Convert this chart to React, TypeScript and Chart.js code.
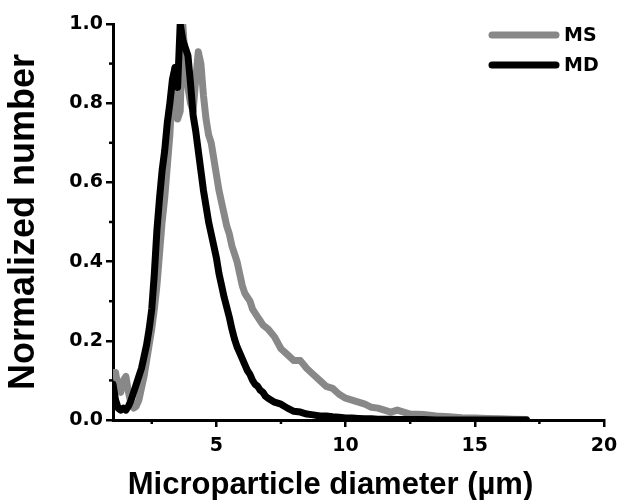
import { useEffect, useRef } from 'react';
import { Chart, registerables } from 'chart.js';

Chart.register(...registerables);

// Microparticle diameter (µm)
const diameter = [
  1.0, 1.1, 1.2, 1.3, 1.4, 1.5, 1.6, 1.7, 1.8, 1.9,
  2.0, 2.1, 2.2, 2.3, 2.4, 2.5, 2.6, 2.7, 2.8, 2.9,
  3.0, 3.1, 3.2, 3.3, 3.4, 3.5, 3.6, 3.7, 3.8, 3.9,
  4.0, 4.1, 4.2, 4.3, 4.4, 4.5, 4.6, 4.7, 4.8, 4.9,
  5.0, 5.1, 5.2, 5.3, 5.4, 5.5, 5.6, 5.7, 5.8, 5.9,
  6.0, 6.1, 6.2, 6.3, 6.4, 6.5, 6.6, 6.7, 6.8, 6.9,
  7.0,
  7.25, 7.5, 7.75, 8.0, 8.25, 8.5, 8.75, 9.0, 9.25, 9.5,
  9.75, 10.0, 10.25, 10.5, 10.75, 11.0, 11.25, 11.5, 11.75, 12.0,
  12.5, 13.0, 13.5, 14.0, 14.5, 15.0, 15.5, 16.0, 16.5, 17.0,
];

// MS (grey)
const msNumber = [
  0.12, 0.12, 0.08, 0.07, 0.10, 0.11, 0.07, 0.04, 0.03, 0.035,
  0.05, 0.08, 0.11, 0.15, 0.19, 0.23, 0.28, 0.34, 0.42, 0.50,
  0.56, 0.64, 0.72, 0.84, 0.89, 0.76, 0.78, 1.0, 0.90, 0.84,
  0.80, 0.78, 0.86, 0.93, 0.90, 0.82, 0.76, 0.72, 0.70, 0.66,
  0.62, 0.58, 0.55, 0.52, 0.49, 0.47, 0.44, 0.42, 0.40, 0.37,
  0.34, 0.32, 0.31, 0.30, 0.28, 0.27, 0.26, 0.25, 0.24, 0.235,
  0.23,
  0.21, 0.18, 0.165, 0.15, 0.15, 0.13, 0.115, 0.10, 0.085, 0.08,
  0.065, 0.055, 0.05, 0.045, 0.04, 0.032, 0.03, 0.025, 0.02, 0.025,
  0.015, 0.014, 0.01, 0.008, 0.006, 0.005, 0.004, 0.003, 0.002, 0.001,
];

// MD (black)
const mdNumber = [
  0.09, 0.05, 0.03, 0.025, 0.03, 0.025, 0.035, 0.05, 0.07, 0.09,
  0.11, 0.13, 0.16, 0.19, 0.23, 0.28, 0.37, 0.48, 0.56, 0.63,
  0.68, 0.75, 0.80, 0.86, 0.89, 0.84, 1.0, 0.96, 0.94, 0.92,
  0.85, 0.77, 0.73, 0.68, 0.63, 0.58, 0.54, 0.50, 0.47, 0.44,
  0.41, 0.37, 0.34, 0.31, 0.285, 0.26, 0.23, 0.205, 0.185, 0.17,
  0.155, 0.14, 0.125, 0.115, 0.10, 0.09, 0.085, 0.075, 0.07, 0.06,
  0.055,
  0.045, 0.04, 0.03, 0.022, 0.02, 0.015, 0.013, 0.01, 0.01, 0.008,
  0.007, 0.005, 0.005, 0.004, 0.003, 0.003, 0.002, 0.002, 0.002, 0.001,
  0.001, 0.001, 0, 0, 0, 0, 0, 0, 0, 0,
];

const seriesNames = ['MS', 'MD'];
const xMajorTicks = [5, 10, 15, 20];
const xMinorTicks = [2.5, 7.5, 12.5, 17.5];
const yMinorTicks = [0.1, 0.3, 0.5, 0.7, 0.9];
const xTitle = 'Microparticle diameter (µm)';
const yTitle = 'Normalized number';

const GREY = '#888888';
const BLACK = '#000000';
const seriesColors = [GREY, BLACK];

const decorPlugin = {
  id: 'decor',
  afterDraw(chart: any) {
    const { ctx, chartArea, scales } = chart;
    const xs = scales.x;
    const ys = scales.y;
    ctx.save();
    ctx.strokeStyle = '#000';
    ctx.lineWidth = 2.5;
    yMinorTicks.forEach((v) => {
      const py = ys.getPixelForValue(v);
      ctx.beginPath();
      ctx.moveTo(chartArea.left, py);
      ctx.lineTo(chartArea.left - 4, py);
      ctx.stroke();
    });
    xMinorTicks.forEach((v) => {
      const px = xs.getPixelForValue(v);
      ctx.beginPath();
      ctx.moveTo(px, chartArea.bottom);
      ctx.lineTo(px, chartArea.bottom + 4);
      ctx.stroke();
    });

    // legend
    ctx.lineCap = 'round';
    ctx.lineWidth = 7;
    ctx.font = 'bold 19px "DejaVu Sans"';
    ctx.textBaseline = 'middle';
    ctx.textAlign = 'left';
    seriesNames.forEach((name, i) => {
      const ly = chartArea.top + 11 + i * 30;
      ctx.strokeStyle = seriesColors[i];
      ctx.beginPath();
      ctx.moveTo(chartArea.right - 112, ly);
      ctx.lineTo(chartArea.right - 48, ly);
      ctx.stroke();
      ctx.fillStyle = '#000';
      ctx.fillText(name, chartArea.right - 40, ly + 1);
    });

    // x title
    ctx.font = 'bold 31px "Liberation Sans"';
    ctx.textAlign = 'center';
    ctx.textBaseline = 'alphabetic';
    ctx.fillStyle = '#000';
    ctx.fillText(xTitle, chart.width / 2 + 21, 494);
    ctx.restore();
  },
};

export default function App() {
  const ref = useRef<HTMLCanvasElement | null>(null);
  useEffect(() => {
    if (!ref.current) return;
    const chart = new Chart(ref.current, {
      type: 'line',
      data: {
        datasets: [
          {
            label: seriesNames[0],
            data: diameter.map((d, i) => ({ x: d, y: msNumber[i] })),
            borderColor: GREY,
            backgroundColor: GREY,
            borderWidth: 7,
            pointRadius: 0,
            tension: 0,
            borderJoinStyle: 'round',
            borderCapStyle: 'round',
            order: 2,
          },
          {
            label: seriesNames[1],
            data: diameter.map((d, i) => ({ x: d, y: mdNumber[i] })),
            borderColor: BLACK,
            backgroundColor: BLACK,
            borderWidth: 7,
            pointRadius: 0,
            tension: 0,
            borderJoinStyle: 'round',
            borderCapStyle: 'round',
            order: 1,
          },
        ],
      },
      options: {
        animation: false,
        responsive: true,
        maintainAspectRatio: false,
        layout: { padding: { top: 24, right: 15, left: 0, bottom: 0 } },
        plugins: { legend: { display: false }, tooltip: { enabled: false } },
        scales: {
          x: {
            type: 'linear',
            min: 1,
            max: 20,
            afterBuildTicks: (scale: any) => {
              scale.ticks = xMajorTicks.map((v) => ({ value: v }));
            },
            afterFit: (scale: any) => {
              scale.height = 80;
              scale.paddingLeft = 0;
              scale.paddingRight = 0;
            },
            border: { display: true, color: '#000', width: 3 },
            grid: {
              display: true,
              drawOnChartArea: false,
              drawTicks: true,
              tickLength: 7,
              color: '#000',
              lineWidth: 2.5,
            },
            ticks: {
              color: '#000',
              padding: 8,
              maxRotation: 0,
              font: { family: 'DejaVu Sans', weight: 'bold', size: 19 },
              callback: (v: any) => String(v),
            },
          },
          y: {
            type: 'linear',
            min: 0,
            max: 1,
            afterFit: (scale: any) => {
              scale.width = 113;
              scale.paddingTop = 0;
              scale.paddingBottom = 0;
            },
            border: { display: true, color: '#000', width: 3 },
            grid: {
              display: true,
              drawOnChartArea: false,
              drawTicks: true,
              tickLength: 7,
              color: '#000',
              lineWidth: 2.5,
            },
            ticks: {
              stepSize: 0.2,
              color: '#000',
              padding: 3,
              font: { family: 'DejaVu Sans', weight: 'bold', size: 19 },
              callback: (v: any) => Number(v).toFixed(1),
            },
            title: {
              display: true,
              text: yTitle,
              color: '#000',
              padding: { top: 2, bottom: 0 },
              font: { family: 'Liberation Sans', weight: 'bold', size: 36 },
            },
          },
        },
      },
      plugins: [decorPlugin],
    });
    return () => chart.destroy();
  }, []);

  return (
    <div style={{ position: 'fixed', left: 0, top: 0, width: 619, height: 500, background: '#fff' }}>
      <canvas ref={ref} />
    </div>
  );
}
